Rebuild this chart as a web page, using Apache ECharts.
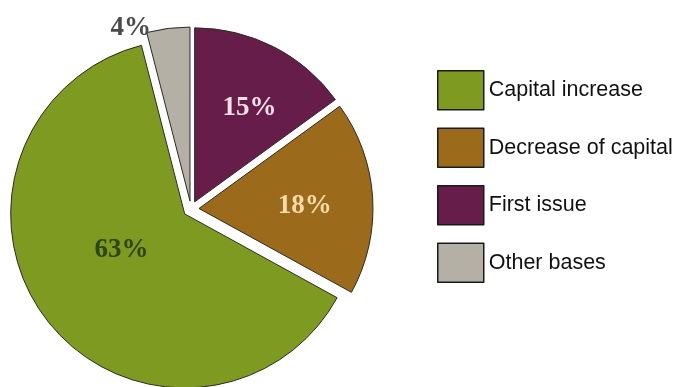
<!DOCTYPE html>
<html>
<head>
<meta charset="utf-8">
<script src="https://cdn.jsdelivr.net/npm/echarts@6/dist/echarts.min.js"></script>
<style>
  html, body { margin: 0; padding: 0; background: #ffffff; }
  #chart { width: 682px; height: 387px; }
</style>
</head>
<body>
<div id="chart"></div>
<script>
// Share of issues by basis (percent), clockwise from 12 o'clock
const categories = ['First issue', 'Decrease of capital', 'Capital increase', 'Other bases'];
const shares = [15, 18, 63, 4];
const legendOrder = ['Capital increase', 'Decrease of capital', 'First issue', 'Other bases'];

// Styling per slice
const sliceColors = ['#661d49', '#9b6a1b', '#7f9a20', '#b5b0a5'];
const labelColors = ['#f3dfe8', '#f7dba8', '#2d4510', '#4a4a4a'];
const labelShift = [[14, -14], [16, 3], [8, -19], [-48, -84]];

const chart = echarts.init(document.getElementById('chart'), null, { renderer: 'canvas' });

chart.setOption({
  backgroundColor: '#ffffff',
  animation: false,
  legend: {
    orient: 'vertical',
    left: 437,
    top: 70,
    padding: 0,
    itemWidth: 46,
    itemHeight: 39,
    itemGap: 17,
    icon: 'rect',
    data: legendOrder,
    itemStyle: { borderColor: '#1a1a1a', borderWidth: 1.5 },
    textStyle: {
      fontFamily: '"Liberation Sans", Arial, sans-serif',
      fontSize: 21.5,
      color: '#111111'
    },
    selectedMode: false
  },
  series: [{
    type: 'pie',
    center: [191, 209],
    radius: 174,
    startAngle: 90,
    clockwise: true,
    selectedMode: 'multiple',
    selectedOffset: 8,
    avoidLabelOverlap: false,
    silent: true,
    itemStyle: { borderColor: '#2b2b22', borderWidth: 1 },
    label: {
      show: true,
      position: 'inside',
      formatter: '{c}%',
      fontFamily: '"Liberation Serif", "DejaVu Serif", serif',
      fontWeight: 'bold',
      fontSize: 27
    },
    labelLine: { show: false },
    labelLayout: function (params) {
      const s = labelShift[params.dataIndex];
      return { dx: s[0], dy: s[1] };
    },
    data: categories.map(function (name, i) {
      return {
        name: name,
        value: shares[i],
        selected: true,
        itemStyle: { color: sliceColors[i] },
        label: { color: labelColors[i] }
      };
    })
  }]
});
</script>
</body>
</html>
